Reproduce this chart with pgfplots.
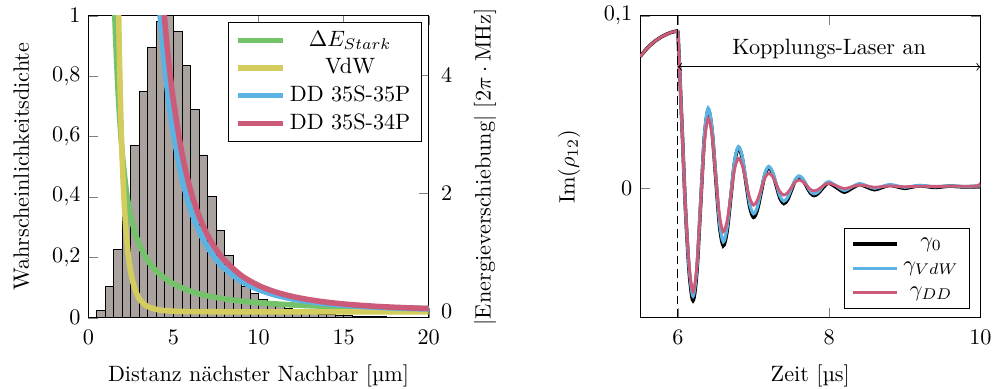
\documentclass[border=0pt]{standalone}
\usepackage{pgfplots}
\pgfplotsset{compat=1.18}
\definecolor{cgreen}{RGB}{116,194,106}
\definecolor{cyellow}{RGB}{212,205,94}
\definecolor{cblue}{RGB}{90,179,227}
\definecolor{cpink}{RGB}{204,91,122}
\definecolor{hgray}{RGB}{170,162,159}
\begin{document}
\begin{tikzpicture}
\pgfplotsset{every axis/.append style={scale only axis, width=153.3pt, height=136pt,
  /pgf/number format/use comma, xticklabel shift=2pt, xlabel shift=2.2pt,
  legend image code/.code={\draw[#1] (0cm,0cm) -- (0.7cm,0cm);}}}
% left: histogram
\begin{axis}[xmin=0, xmax=20, ymin=0, ymax=1, axis y line*=left,
  xtick={0,5,10,15,20}, ytick={0,0.2,0.4,0.6,0.8,1}, ylabel shift=3.4pt,
  xlabel={Distanz nächster Nachbar [µm]}, ylabel={Wahrscheinlichkeitsdichte}]
\addplot[ybar interval, fill=hgray, draw=black] coordinates {
(0.5,0.025) (1.0,0.103) (1.5,0.226) (2.0,0.39) (2.5,0.57) (3.0,0.748) (3.5,0.894)
(4.0,0.98) (4.5,1.0) (5.0,0.947) (5.5,0.834) (6.0,0.69) (6.5,0.539) (7.0,0.40)
(7.5,0.29) (8.0,0.205) (8.5,0.14) (9.0,0.105) (9.5,0.079) (10.0,0.06) (10.5,0.046)
(11.0,0.037) (11.5,0.03) (12.0,0.024) (12.5,0.019) (13.0,0.015) (13.5,0.012)
(14.0,0.01) (14.5,0.008) (15.0,0.006) (15.5,0.005) (16.0,0.004) (16.5,0.003)
(17.0,0.003) (17.5,0.002) (18.0,0.002) (18.5,0.002) (19.0,0.001) (19.5,0.001) (20.0,0)
};
\end{axis}
% left: energy curves
\begin{axis}[xmin=0, xmax=20, ymin=-0.1, ymax=5, axis y line*=right, axis x line=none,
  ytick={0,2,4}, yticklabel style={xshift=2pt}, ylabel shift=3pt,
  ylabel={$|$Energieverschiebung$|$ [$2\pi\cdot\mathrm{MHz}$]},
  legend style={at={(0.98,0.98)}, anchor=north east}, legend cell align=center]
\addplot[cgreen, line width=2.5pt, smooth] coordinates {
(1.5,5.5) (1.55,5.05) (1.6,4.65) (1.7,4.0) (1.8,3.45) (2.0,2.65) (2.25,2.0)
(2.5,1.6) (2.75,1.33) (3.0,1.13) (3.5,0.86) (4.0,0.69) (4.5,0.566) (5.0,0.472)
(6.0,0.347) (7.0,0.269) (8.0,0.217) (9.0,0.180) (10,0.153) (12,0.116) (14,0.092)
(16,0.076) (18,0.0645) (20,0.056)};
\addlegendentry{$\Delta E_{Stark}$}
\addplot[cyellow, line width=2.5pt, smooth] coordinates {
(1.75,5.57) (1.8,4.70) (1.85,3.99) (1.9,3.40) (1.95,2.91) (2.0,2.5)
(2.1,1.865) (2.2,1.411) (2.3,1.081) (2.4,0.837) (2.5,0.655) (2.6,0.518) (2.8,0.332)
(3.0,0.219) (3.25,0.136) (3.5,0.087) (4.0,0.039) (4.5,0.0193) (5.0,0.0102)
(6.0,0.0034) (8.0,0.0006) (12,0.0) (20,0.0)};
\addlegendentry{VdW}
\addplot[cblue, line width=2.5pt, smooth] coordinates {
(4.1,5.44) (4.2,5.06) (4.4,4.40) (4.6,3.85) (4.8,3.39) (5.0,3.00) (5.5,2.254)
(6.0,1.736) (6.5,1.366) (7.0,1.093) (7.5,0.889) (8,0.732) (9,0.514) (10,0.375)
(11,0.282) (12,0.217) (13,0.171) (14,0.137) (15,0.111) (16,0.0916) (17,0.0763)
(18,0.0643) (19,0.0547) (20,0.0469)};
\addlegendentry{DD 35S-35P}
\addplot[cpink, line width=2.5pt, smooth] coordinates {
(4.4,5.22) (4.5,4.88) (4.6,4.57) (4.8,4.02) (5.0,3.56) (5.5,2.674) (6.0,2.060)
(6.5,1.621) (7.0,1.297) (7.5,1.055) (8,0.869) (9,0.610) (10,0.445) (11,0.334)
(12,0.258) (13,0.203) (14,0.162) (15,0.132) (16,0.109) (17,0.0906) (18,0.0763)
(19,0.0649) (20,0.0556)};
\addlegendentry{DD 35S-34P}
\end{axis}
% right panel
\begin{axis}[xshift=248.5pt, xmin=5.5, xmax=10, ymin=-0.075, ymax=0.1,
  xtick={6,8,10}, ytick={0,0.1}, ylabel shift=3.8pt,
  xlabel={Zeit [µs]}, ylabel={$\mathrm{Im}(\rho_{12})$},
  legend pos=south east, legend cell align=center, legend style={row sep=1.2pt}]
\addplot[black, line width=1.6pt, smooth, forget plot] coordinates {
(5.5,0.0764) (5.6,0.0815) (5.7,0.0854) (5.8,0.0882) (5.9,0.0902) (6.0,0.0913)};
\addplot[black, line width=1.6pt, smooth] coordinates {
(6.0,0.0913) (6.02,0.071) (6.06,0.030) (6.10,-0.012) (6.15,-0.049) (6.2,-0.065)
(6.25,-0.0488) (6.3,-0.0098) (6.35,0.0293) (6.4,0.0455) (6.45,0.0340) (6.5,0.0062)
(6.55,-0.0217) (6.6,-0.0332) (6.65,-0.0249) (6.7,-0.0049) (6.75,0.0152) (6.8,0.0235)
(6.85,0.0176) (6.9,0.0034) (6.95,-0.0109) (7.0,-0.0168) (7.05,-0.0126) (7.1,-0.0024)
(7.15,0.0078) (7.2,0.012) (7.25,0.0090) (7.3,0.0016) (7.35,-0.0058) (7.4,-0.0088)
(7.45,-0.0066) (7.5,-0.0012) (7.55,0.0043) (7.6,0.0065) (7.65,0.0049) (7.7,0.0012)
(7.75,-0.0026) (7.8,-0.0042) (7.85,-0.0031) (7.9,-0.0006) (7.95,0.0019) (8.0,0.003)
(8.1,0.0004) (8.2,-0.0022) (8.3,0.0000) (8.4,0.0022) (8.5,0.0007) (8.6,-0.0008)
(8.7,0.0005) (8.8,0.0018) (8.9,0.0009) (9.0,0.0000) (9.1,0.0008) (9.2,0.0015)
(9.3,0.001) (9.4,0.0005) (9.5,0.0009) (9.6,0.0013) (9.7,0.001) (9.8,0.0008)
(9.9,0.001) (10.0,0.0012)};
\addlegendentry{$\gamma_0$}
\addplot[cblue, line width=1.4pt, smooth] coordinates {
(6.0,0.0913) (6.02,0.071) (6.06,0.030) (6.10,-0.012) (6.15,-0.047) (6.2,-0.0625)
(6.25,-0.0465) (6.3,-0.008) (6.35,0.0305) (6.4,0.0465) (6.45,0.0352) (6.5,0.0078)
(6.55,-0.0197) (6.6,-0.031) (6.65,-0.0229) (6.7,-0.0034) (6.75,0.0161) (6.8,0.0242)
(6.85,0.0185) (6.9,0.0047) (6.95,-0.0091) (7.0,-0.0148) (7.05,-0.0108) (7.1,-0.0011)
(7.15,0.0087) (7.2,0.0127) (7.25,0.0097) (7.3,0.0026) (7.35,-0.0045) (7.4,-0.0075)
(7.45,-0.0053) (7.5,-0.0002) (7.55,0.0050) (7.6,0.0072) (7.65,0.0057) (7.7,0.002)
(7.75,-0.0017) (7.8,-0.0032) (7.85,-0.0022) (7.9,0.0003) (7.95,0.0028) (8.0,0.0038)
(8.1,0.0013) (8.2,-0.0012) (8.3,0.0008) (8.4,0.0028) (8.5,0.0014) (8.6,0.0000)
(8.7,0.0011) (8.8,0.0022) (8.9,0.0014) (9.0,0.0006) (9.1,0.0012) (9.2,0.0017)
(9.3,0.0013) (9.4,0.0009) (9.5,0.0012) (9.6,0.0014) (9.7,0.0012) (9.8,0.0011)
(9.9,0.0012) (10.0,0.0013)};
\addlegendentry{$\gamma_{VdW}$}
\addplot[cpink, line width=1.3pt, smooth, forget plot] coordinates {
(5.5,0.0764) (5.6,0.0815) (5.7,0.0854) (5.8,0.0882) (5.9,0.0902) (6.0,0.0913)};
\addplot[cpink, line width=1.3pt, smooth] coordinates {
(6.0,0.0913) (6.02,0.071) (6.06,0.030) (6.10,-0.011) (6.15,-0.045) (6.2,-0.060)
(6.25,-0.0453) (6.3,-0.0097) (6.35,0.0259) (6.4,0.0406) (6.45,0.0310) (6.5,0.0077)
(6.55,-0.0156) (6.6,-0.0252) (6.65,-0.0190) (6.7,-0.0039) (6.75,0.0112) (6.8,0.0174)
(6.85,0.0134) (6.9,0.0039) (6.95,-0.0057) (7.0,-0.0097) (7.05,-0.0070) (7.1,-0.0005)
(7.15,0.0060) (7.2,0.0087) (7.25,0.0069) (7.3,0.0024) (7.35,-0.0021) (7.4,-0.0039)
(7.45,-0.0026) (7.5,0.0005) (7.55,0.0035) (7.6,0.0048) (7.65,0.0039) (7.7,0.0017)
(7.75,-0.0006) (7.8,-0.0015) (7.85,-0.0008) (7.9,0.0008) (7.95,0.0023) (8.0,0.003)
(8.1,0.0014) (8.2,-0.0002) (8.3,0.0009) (8.4,0.002) (8.5,0.0013) (8.6,0.0006)
(8.7,0.001) (8.8,0.0014) (8.9,0.0011) (9.0,0.0009) (9.2,0.0012) (9.4,0.0011)
(9.6,0.0012) (9.8,0.0012) (9.96,0.0013) (10.0,0.003)};
\addlegendentry{$\gamma_{DD}$}
\draw[dash pattern=on 4pt off 2pt] (axis cs:6,-0.075) -- (axis cs:6,0.1);
\draw[dash pattern=on 4pt off 2pt] (axis cs:10,-0.075) -- (axis cs:10,0.1);
\draw[<->] (axis cs:6,0.0704) -- (axis cs:10,0.0704) node[midway, above] {Kopplungs-Laser an};
\end{axis}
\pgfresetboundingbox
\useasboundingbox (-39.8pt,-31.7pt) rectangle (407.9pt,143.1pt);
\end{tikzpicture}
\end{document}
